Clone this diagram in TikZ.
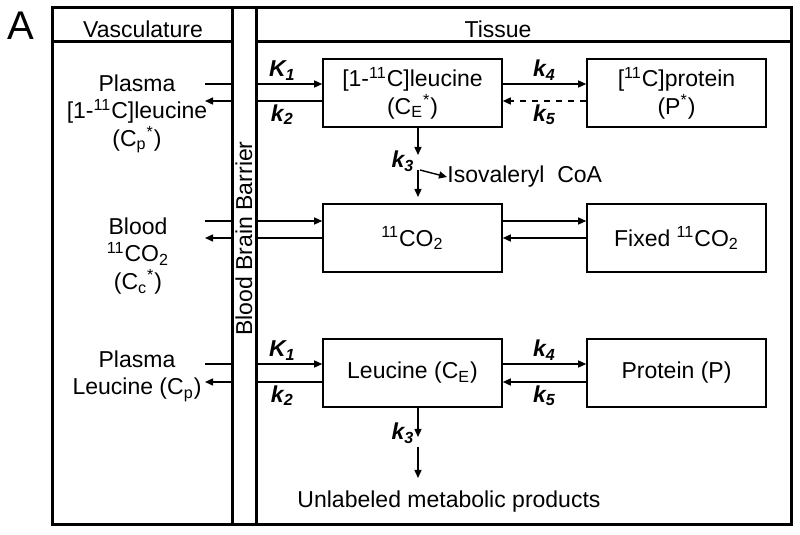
\documentclass[tikz,border=0pt]{standalone}
\usepackage{fontspec}
\setmainfont{Liberation Sans}
\usetikzlibrary{arrows.meta}

\newcommand{\bodysize}{\fontsize{11.5}{13.75}\selectfont}
\newcommand{\rate}[2]{\textbf{\textit{#1\textsubscript{#2}}}}

\begin{document}
\begin{tikzpicture}[x=0.5pt, y=-0.5pt, font=\bodysize,
  frame/.style={line width=1.5pt},
  pool/.style={draw, line width=0.8pt, minimum width=89.5pt, minimum height=34pt, align=center, inner sep=0pt},
  flow/.style={line width=0.7pt, -{Triangle[length=4pt, width=3.5pt]}},
  ratelbl/.style={inner sep=1.5pt}]

\useasboundingbox (0,0) rectangle (800,535);

\node[font=\fontsize{20}{20}\selectfont] (panel) at (21,26) {A};
\node (vasc) at (143,29) {Vasculature};
\node (tiss) at (498,29) {Tissue};
\draw[frame] (52,42) -- (791,42);

% vascular pools
\node[align=center] (cpS) at (137,114) {Plasma\\{}[1-\textsuperscript{11}C]leucine\\(C\textsubscript{p}\textsuperscript{*})};
\node[align=center] (ccS) at (138,256) {Blood\\\textsuperscript{11}CO\textsubscript{2}\\(C\textsubscript{c}\textsuperscript{*})};
\node[align=center] (cp) at (137,376) {Plasma\\Leucine (C\textsubscript{p})};

% tissue pools
\node[pool] (leuS) at (412.5,93) {[1-\textsuperscript{11}C]leucine\\(C\textsubscript{E}\textsuperscript{*})};
\node[pool] (protS) at (676.5,93) {[\textsuperscript{11}C]protein\\(P\textsuperscript{*})};
\node[pool] (co2) at (412.5,238) {\textsuperscript{11}CO\textsubscript{2}};
\node[pool] (fixS) at (676.5,238) {Fixed \textsuperscript{11}CO\textsubscript{2}};
\node[pool] (leu) at (412.5,373) {Leucine (C\textsubscript{E})};
\node[pool] (prot) at (676.5,373) {Protein (P)};

\node[anchor=west, inner sep=0pt] (iso) at (447,177) {Isovaleryl\ \ CoA};
\node (unlab) at (449,502) {Unlabeled metabolic products};

% labeled leucine
\coordinate (cpIn) at (205,84);
\coordinate (cpOut) at (205,101);
\draw[flow] (cpIn) -- (cpIn -| leuS.west) node[pos=0.66, above, ratelbl] {\rate{K}{1}};
\draw[flow] (cpOut -| leuS.west) -- (cpOut) node[pos=0.34, below, ratelbl] {\rate{k}{2}};
\draw[flow] ([yshift=4.5pt]leuS.east) -- ([yshift=4.5pt]protS.west) node[midway, above, ratelbl] {\rate{k}{4}};
\draw[flow, dashed] ([yshift=-4pt]protS.west) -- ([yshift=-4pt]leuS.east) node[midway, below, ratelbl] {\rate{k}{5}};

\coordinate (k3top) at (418,155);
\coordinate (k3mid) at (418,170);
\coordinate (k3end) at (418,197);
\draw[flow] (k3top |- leuS.south) -- (k3top) node[left, yshift=-3pt, ratelbl] {\rate{k}{3}};
\draw[flow] (k3mid) -- (k3end);
\draw[flow] ([xshift=1pt]k3mid) -- (iso.west);

% carbon dioxide
\coordinate (ccIn) at (205,221);
\coordinate (ccOut) at (205,238);
\draw[flow] (ccIn) -- (ccIn -| co2.west);
\draw[flow] (ccOut -| co2.west) -- (ccOut);
\draw[flow] ([yshift=8.5pt]co2.east) -- ([yshift=8.5pt]fixS.west);
\draw[flow] (fixS.west) -- (co2.east);

% unlabeled leucine
\coordinate (plIn) at (205,364);
\coordinate (plOut) at (205,382);
\draw[flow] (plIn) -- (plIn -| leu.west) node[pos=0.66, above, ratelbl] {\rate{K}{1}};
\draw[flow] (plOut -| leu.west) -- (plOut) node[pos=0.34, below, ratelbl] {\rate{k}{2}};
\draw[flow] ([yshift=4.5pt]leu.east) -- ([yshift=4.5pt]prot.west) node[midway, above, ratelbl] {\rate{k}{4}};
\draw[flow] ([yshift=-4.5pt]prot.west) -- ([yshift=-4.5pt]leu.east) node[midway, below, ratelbl] {\rate{k}{5}};

\coordinate (k3b) at (418,437);
\coordinate (k3c) at (418,447);
\coordinate (k3d) at (418,478);
\draw[flow] (k3b |- leu.south) -- (k3b) node[left, yshift=2pt, ratelbl] {\rate{k}{3}};
\draw[flow] (k3c) -- (k3d);

% barrier and frame
\draw[frame, fill=white] (232,8) rectangle (256,525);
\node[rotate=90] (bbb) at (244,238.5) {Blood Brain Barrier};
\draw[frame] (52,8) rectangle (791,525);

\end{tikzpicture}
\end{document}
